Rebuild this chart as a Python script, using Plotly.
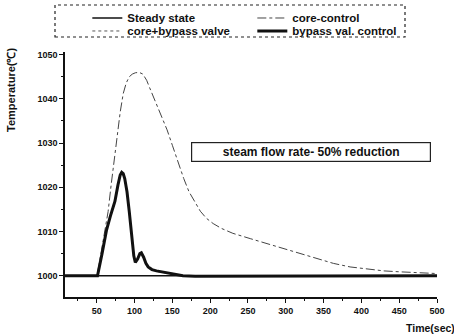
import plotly.graph_objects as go

# Time axis (s) and temperature responses (deg C)
steady_t = [8, 500]
steady_T = [1000, 1000]

core_t = [8, 50, 53, 57, 61, 65, 69, 73, 77, 81, 85, 89, 93, 97, 101, 106, 111, 116, 120,
          125, 130, 137, 143, 150, 157, 165, 172, 180, 187, 195, 204, 215, 230, 253, 275,
          300, 319, 340, 363, 385, 407, 430, 450, 475, 500]
core_T = [1000, 1000, 1002.5, 1006.5, 1010.5, 1014.5, 1020.5, 1026.5, 1031.6, 1037, 1041.2,
          1043.6, 1045, 1045.6, 1045.9, 1046, 1045.6, 1044.2, 1042.5, 1040.4, 1038.2, 1035.5,
          1033, 1029.5, 1025.8, 1022, 1019, 1016.5, 1014.6, 1013, 1011.8, 1010.7, 1009.6,
          1008.4, 1007.3, 1006, 1005, 1003.9, 1002.8, 1002, 1001.5, 1001.1, 1000.9, 1000.7,
          1000.5]

cbv_t = [8, 51, 57, 63, 68, 74, 78, 81, 83, 85, 87, 90, 93, 96, 99, 101, 104, 107, 109, 112,
         115, 118, 123, 129, 138, 147, 156, 164, 180, 200, 500]
cbv_T = [1000, 1000, 1004.8, 1010.2, 1013.2, 1016.5, 1020.2, 1022.4, 1023.0, 1022.7, 1021.6,
         1018.6, 1014.2, 1008.8, 1004.4, 1002.9, 1003.6, 1004.8, 1005.0, 1004.0, 1002.7, 1001.9,
         1001.3, 1001.0, 1000.7, 1000.4, 1000.1, 1000, 999.9, 999.9, 1000]

bypass_t = [8, 51, 57, 63, 68, 74, 78, 81, 83, 85, 87, 90, 93, 96, 99, 101, 104, 107, 109,
            112, 115, 118, 123, 129, 138, 147, 156, 164, 180, 200, 500]
bypass_T = [1000, 1000, 1005, 1010.4, 1013.5, 1016.8, 1020.5, 1022.8, 1023.4, 1023.1, 1022,
            1019, 1014.5, 1009, 1004.5, 1003, 1003.8, 1005, 1005.2, 1004.2, 1002.8, 1002,
            1001.4, 1001.1, 1000.8, 1000.5, 1000.2, 1000, 999.9, 999.9, 1000]

x_ticks = [50, 100, 150, 200, 250, 300, 350, 400, 450, 500]
y_ticks = [1000, 1010, 1020, 1030, 1040, 1050]

FONT = "Liberation Sans"

fig = go.Figure()
fig.add_trace(go.Scatter(x=steady_t, y=steady_T, mode="lines", name="<b>Steady state</b>",
                         legend="legend", line=dict(color="#111111", width=1.3)))
fig.add_trace(go.Scatter(x=core_t, y=core_T, mode="lines", name="<b>core-control</b>",
                         legend="legend", line=dict(color="#444444", width=1, dash="dashdot")))
fig.add_trace(go.Scatter(x=cbv_t, y=cbv_T, mode="lines", name="<b>core+bypass valve</b>",
                         legend="legend2", line=dict(color="#555555", width=1, dash="dot")))
fig.add_trace(go.Scatter(x=bypass_t, y=bypass_T, mode="lines", name="<b>bypass val. control</b>",
                         legend="legend2", line=dict(color="#111111", width=3)))

legend_common = dict(orientation="h", x=0.06, xanchor="left", yanchor="top",
                     entrywidth=120, entrywidthmode="pixels",
                     font=dict(family=FONT, size=11.5, color="#111111"),
                     bgcolor="rgba(0,0,0,0)", borderwidth=0, tracegroupgap=0)

fig.update_layout(
    width=454, height=334,
    margin=dict(l=65, r=17, t=52, b=37, autoexpand=False),
    paper_bgcolor="white", plot_bgcolor="white",
    font=dict(family=FONT, color="#111111", size=9),
    showlegend=True,
    legend=dict(legend_common, y=1.198),
    legend2=dict(legend_common, y=1.145),
    xaxis=dict(range=[8, 500], tickvals=x_ticks, ticktext=[f"<b>{v}</b>" for v in x_ticks],
               showgrid=False, zeroline=False, showline=True, linecolor="#111111", linewidth=1.5,
               ticks="outside", ticklen=4, tickwidth=1.2, tickcolor="#111111",
               minor=dict(dtick=25, tick0=0, ticks="outside", ticklen=2.5, tickcolor="#111111"),
               tickfont=dict(family=FONT, size=9)),
    yaxis=dict(range=[995.2, 1050.6], tickvals=y_ticks, ticktext=[f"<b>{v}</b>" for v in y_ticks],
               showgrid=False, zeroline=False, showline=True, linecolor="#111111", linewidth=1.5,
               ticks="outside", ticklen=4, tickwidth=1.2, tickcolor="#111111",
               minor=dict(dtick=5, tick0=0, ticks="outside", ticklen=2.5, tickcolor="#111111"),
               tickfont=dict(family=FONT, size=9)),
)

# Legend frame
fig.add_shape(type="rect", xref="paper", yref="paper",
              x0=(55 - 65) / 372, x1=(405 - 65) / 372,
              y0=(297 - 37) / 245, y1=(297 - 5) / 245,
              line=dict(color="#222222", width=1.2, dash="dot"))

# Case label box
fig.add_annotation(x=(311 - 65) / 372, y=(297 - 152) / 245, xref="paper", yref="paper",
                   text="<b>steam flow rate- 50% reduction</b>", showarrow=False,
                   font=dict(family=FONT, size=12, color="#111111"),
                   bordercolor="#222222", borderwidth=1.2, borderpad=2, width=234,
                   bgcolor="white")

# Axis titles
fig.add_annotation(x=(430 - 65) / 372, y=(297 - 328) / 245, xref="paper", yref="paper",
                   xanchor="center", yanchor="middle",
                   text="<b>Time(sec)</b>", showarrow=False,
                   font=dict(family=FONT, size=10.5, color="#111111"))
fig.add_annotation(x=(11 - 65) / 372, y=(297 - 90) / 245, xref="paper", yref="paper",
                   xanchor="center", yanchor="middle",
                   text="<b>Temperature(℃)</b>", showarrow=False, textangle=-90,
                   font=dict(family=FONT, size=11, color="#111111"))

fig.write_html("out.html")
